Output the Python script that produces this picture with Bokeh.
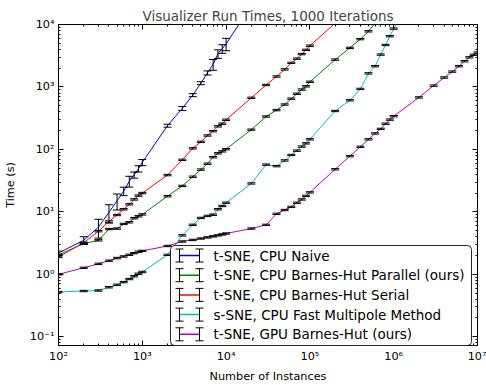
import pandas as pd
from bokeh.plotting import figure
from bokeh.models import (ColumnDataSource, Whisker, TeeHead, LogAxis, FixedTicker,
                          CustomJSTickFormatter, BoxAnnotation, Label, Arrow, Range1d)
from bokeh.embed import file_html
from bokeh.resources import INLINE

# ---------------- data ----------------
sizes = [100, 200, 300, 400, 500, 600, 700, 800, 900,
         1000, 2000, 3000, 4000, 5000, 6000, 7000, 8000, 9000,
         10000, 20000, 30000, 40000, 50000, 60000, 70000, 80000, 90000,
         100000, 200000, 300000, 400000, 500000, 600000, 700000, 800000, 900000,
         1000000, 2000000, 3000000, 4000000, 5000000, 6000000, 7000000, 8000000, 9000000,
         10000000]

naive_time = [2.2, 3.5, 5.7, 9.8, 15, 21.5, 31, 39, 49,
              62, 240, 453, 740, 1150, 1680, 2300, 3400, 4100,
              4900, 20000]
naive_err = [0.15, 0.5, 1.9, 3.2, 4.3, 3.3, 6.1, 4.4, 5.6,
             7, 13, 34, 41, 63, 126, 450, 530, 640,
             1100, 0]

bhpar_time = [2.05, 3.1, 3.5, 5.3, 5.4, 6.4, 6.8, 7.9, 8.5,
              9.1, 17.8, 26, 36.5, 47.5, 59, 75, 86.6, 93,
              101, 207, 336, 426, 523, 649, 778, 908, 1023,
              1210, 2740, 4220, 5830, 7780, 10500]
bhpar_err = [0.05, 0.08, 0.09, 0.13, 0.14, 0.16, 0.17, 0.2, 0.21,
             0.23, 0.45, 0.65, 0.9, 1.2, 1.5, 1.9, 2.2, 2.3,
             2.5, 5, 8, 11, 13, 16, 19, 23, 26,
             30, 70, 105, 145, 195, 260]

bhser_time = [1.9, 3.2, 4.9, 7.0, 8.9, 11, 13.2, 15.8, 18.2,
              20, 38.8, 68, 104, 132, 167, 196, 234, 258,
              298, 670, 1075, 1470, 1910, 2430, 2840, 3360, 3930,
              4580, 10500]
bhser_err = [0.05, 0.08, 0.12, 0.18, 0.22, 0.28, 0.33, 0.4, 0.45,
             0.5, 1, 1.7, 2.6, 3.3, 4.2, 4.9, 5.9, 6.5,
             7.5, 17, 27, 37, 48, 61, 71, 84, 98,
             115, 260]

fmm_time = [0.52, 0.54, 0.55, 0.62, 0.68, 0.75, 0.84, 0.93, 1.02,
            1.09, 2.05, 4.2, 6.2, 8.0, 8.6, 9.0, 11, 12.4,
            14, 28.5, 57, 54, 66.5, 81.5, 95.5, 111, 125,
            145, 412, 611, 930, 1650, 2150, 3300, 4700, 6500,
            8600, 40000]
fmm_err = [0.013, 0.014, 0.014, 0.016, 0.017, 0.019, 0.021, 0.023, 0.026,
           0.027, 0.05, 0.1, 0.15, 0.2, 0.22, 0.23, 0.28, 0.31,
           0.35, 0.7, 1.4, 1.4, 1.7, 2, 2.4, 2.8, 3.1,
           3.6, 10, 15, 23, 41, 54, 82, 118, 160,
           215, 0]

gpu_time = [1.0, 1.27, 1.47, 1.65, 1.82, 1.93, 2.05, 2.18, 2.3,
            2.37, 2.84, 3.35, 3.55, 3.74, 3.9, 4.05, 4.2, 4.35,
            4.5, 5.4, 6.2, 9.3, 10.7, 12, 14, 15.8, 18,
            20.5, 48, 78, 110, 145, 180, 213, 258, 300,
            340, 680, 1050, 1415, 1760, 2150, 2580, 2980, 3280,
            3560]
gpu_err = [0.025, 0.03, 0.04, 0.04, 0.05, 0.05, 0.05, 0.05, 0.06,
           0.06, 0.07, 0.08, 0.09, 0.09, 0.1, 0.1, 0.1, 0.11,
           0.11, 0.13, 0.15, 0.23, 0.27, 0.3, 0.35, 0.4, 0.45,
           0.5, 1.2, 2, 2.7, 3.6, 4.5, 5.3, 6.5, 7.5,
           8.5, 17, 26, 35, 44, 54, 65, 75, 82,
           89]

labels = ["t-SNE, CPU Naive",
          "t-SNE, CPU Barnes-Hut Parallel (ours)",
          "t-SNE, CPU Barnes-Hut Serial",
          "s-SNE, CPU Fast Multipole Method",
          "t-SNE, GPU Barnes-Hut (ours)"]
series_times = [naive_time, bhpar_time, bhser_time, fmm_time, gpu_time]
series_errs = [naive_err, bhpar_err, bhser_err, fmm_err, gpu_err]
colors = ["#0000ff", "#008000", "#ff0000", "#00bfbf", "#bf00bf"]

major_x = [1e2, 1e3, 1e4, 1e5, 1e6, 1e7]
major_y = [1e-1, 1e0, 1e1, 1e2, 1e3, 1e4]

x_lo, x_hi = 1e2, 1e7
y_lo, y_hi = 0.0724, 1e4

FONT = "DejaVu Sans"

# ---------------- figure ----------------
p = figure(width=486, height=385, x_axis_type="log", y_axis_type="log",
           x_range=Range1d(x_lo, x_hi), y_range=Range1d(y_lo, y_hi),
           output_backend="svg", toolbar_location=None,
           title="Visualizer Run Times, 1000 Iterations",
           min_border_left=54, min_border_right=9, min_border_top=24, min_border_bottom=32)
p.background_fill_color = "white"
p.border_fill_color = "white"
p.outline_line_color = "black"
p.outline_line_width = 1
p.xgrid.visible = False
p.ygrid.visible = False

p.title.align = "center"
p.title.text_font = FONT
p.title.text_font_size = "13.5px"
p.title.text_font_style = "normal"
p.title.standoff = 2


def minor_of(majors):
    out = []
    for m in majors[:-1]:
        out += [m * k for k in range(2, 10)]
    return out


sup_js = """
const sup = {"-": "\\u207b", "0": "\\u2070", "1": "\\u00b9", "2": "\\u00b2", "3": "\\u00b3",
             "4": "\\u2074", "5": "\\u2075", "6": "\\u2076", "7": "\\u2077", "8": "\\u2078", "9": "\\u2079"};
const e = Math.round(Math.log10(tick));
let s = "";
for (const c of String(e)) { s += sup[c]; }
return "10" + s;
"""

xticker = FixedTicker(ticks=major_x, minor_ticks=minor_of(major_x + [1e8]))
yticker = FixedTicker(ticks=major_y, minor_ticks=minor_of([1e-2] + major_y))


def style_axis(ax, ticker, show_labels):
    ax.ticker = ticker
    ax.axis_line_color = "black"
    ax.major_tick_line_color = "black"
    ax.minor_tick_line_color = "black"
    ax.major_tick_in = 5
    ax.major_tick_out = 0
    ax.minor_tick_in = 2
    ax.minor_tick_out = 0
    ax.axis_label_text_font = FONT
    ax.axis_label_text_font_size = "11.25px"
    ax.axis_label_text_font_style = "normal"
    ax.axis_label_text_color = "black"
    ax.major_label_text_font = FONT
    ax.major_label_text_color = "black"
    if show_labels:
        ax.major_label_text_font_size = "11.25px"
        ax.formatter = CustomJSTickFormatter(code=sup_js)
        ax.major_label_standoff = 4
    else:
        ax.major_label_text_font_size = "1px"
        ax.major_label_text_alpha = 0
        ax.formatter = CustomJSTickFormatter(code="return ' ';")
        ax.major_label_standoff = 0


style_axis(p.xaxis[0], xticker, True)
style_axis(p.yaxis[0], yticker, True)
p.xaxis[0].axis_label = "Number of Instances"
p.yaxis[0].axis_label = "Time (s)"
p.xaxis[0].axis_label_standoff = 4
p.yaxis[0].axis_label_standoff = 10

top_ax = LogAxis()
right_ax = LogAxis()
style_axis(top_ax, xticker, False)
style_axis(right_ax, yticker, False)
p.add_layout(top_ax, "above")
p.add_layout(right_ax, "right")

# ---------------- series ----------------
for lab, t, e, c in zip(labels, series_times, series_errs, colors):
    n = len(t)
    df = pd.DataFrame({"x": sizes[:n], "y": t, "err": e})
    df["lower"] = df["y"] - df["err"]
    df["upper"] = df["y"] + df["err"]
    p.line("x", "y", source=ColumnDataSource(df), line_color=c, line_width=1)
    vis = df[df["upper"] <= y_hi]
    w = Whisker(source=ColumnDataSource(vis), base="x", lower="lower", upper="upper",
                dimension="height", line_color="black", line_width=1,
                upper_head=TeeHead(size=8, line_color="black", line_width=1),
                lower_head=TeeHead(size=8, line_color="black", line_width=1),
                level="annotation")
    p.add_layout(w)

# ---------------- legend (hand-built, canvas pixel units) ----------------
box = BoxAnnotation(left=170, right=471, top=245, bottom=345,
                    left_units="canvas", right_units="canvas",
                    top_units="canvas", bottom_units="canvas",
                    fill_color="white", fill_alpha=1.0,
                    line_color="black", line_alpha=0.85, line_width=1,
                    border_radius=4, level="annotation")
p.add_layout(box)

row0, drow = 255.0, 19.7
for i, (lab, c) in enumerate(zip(labels, colors)):
    yy = row0 + i * drow
    p.add_layout(Arrow(x_start=179, y_start=yy, x_end=199, y_end=yy,
                       start_units="canvas", end_units="canvas",
                       start=None, end=None, line_color=c, line_width=1.5, level="annotation"))
    for xx in (179, 199):
        p.add_layout(Arrow(x_start=xx, y_start=yy - 6.5, x_end=xx, y_end=yy + 6.5,
                           start_units="canvas", end_units="canvas",
                           start=TeeHead(size=8, line_color="black", line_width=1),
                           end=TeeHead(size=8, line_color="black", line_width=1),
                           line_color="black", line_width=1, level="annotation"))
    p.add_layout(Label(x=213, y=yy, x_units="canvas", y_units="canvas", text=lab,
                       text_font=FONT, text_font_size="13.5px", text_color="black",
                       text_baseline="middle", text_align="left", level="annotation"))

open("out.html", "w").write(file_html(p, INLINE))
